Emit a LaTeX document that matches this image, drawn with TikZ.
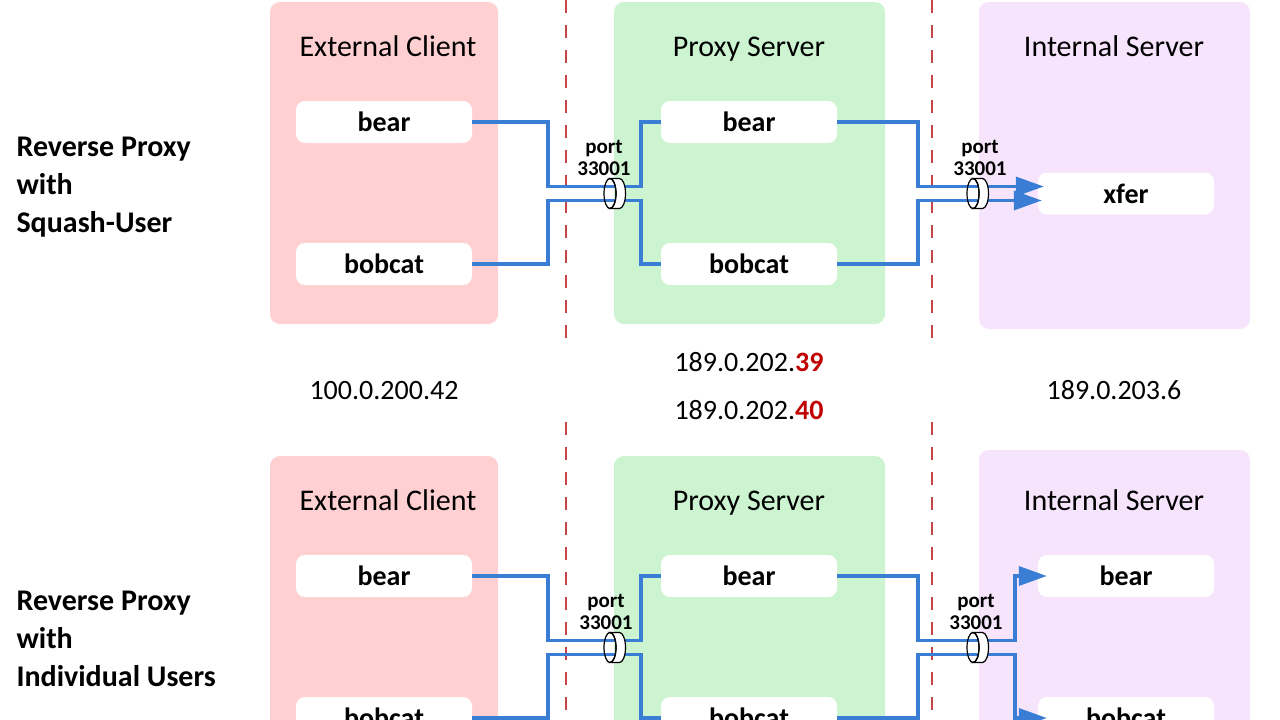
\documentclass[tikz,border=0pt]{standalone}
\usepackage{fontspec}
\setmainfont{Carlito}
\usetikzlibrary{arrows.meta}
\definecolor{pinkc}{RGB}{255,208,210}
\definecolor{greenc}{RGB}{205,244,208}
\definecolor{purplec}{RGB}{246,228,252}
\definecolor{linkc}{RGB}{58,125,212}
\definecolor{dashc}{RGB}{196,70,70}
\definecolor{ipred}{RGB}{192,0,0}
\newcommand\portshape[2]{%
  \begin{scope}[shift={(#1,#2)},x=1pt,y=1pt]
    \filldraw[fill=white,draw=black,line width=1.2pt] (0,15) -- (9.5,15)
      arc[start angle=90,end angle=-90,x radius=6,y radius=15] -- (0,-15)
      arc[start angle=-90,end angle=90,x radius=6,y radius=15] -- cycle;
    \draw[line width=1.2pt] (0,0) ellipse[x radius=6,y radius=15];
  \end{scope}}
\tikzset{
  panel/.style={rounded corners=10pt,inner sep=0pt},
  title/.style={anchor=base,font=\fontsize{30}{36}\selectfont},
  item/.style={fill=white,rounded corners=9pt,minimum width=176pt,minimum height=42pt,inner sep=0pt,font=\fontsize{28}{32}\selectfont\bfseries},
  conn/.style={draw=linkc,line width=3.5pt},
  arr/.style={conn,-{Triangle[length=28pt,width=19pt]}},
  sep/.style={draw=dashc,line width=1.5pt,dash pattern=on 13pt off 12pt},
  iptext/.style={anchor=base,font=\fontsize{28}{34}\selectfont},
  portlab/.style={font=\fontsize{21}{22}\selectfont\bfseries,align=center},
  side/.style={anchor=west,align=left,font=\fontsize{30}{38}\selectfont\bfseries}
}
\begin{document}
\begin{tikzpicture}[x=1pt,y=-1pt]
\useasboundingbox (0,0) rectangle (1280,720);
\clip (0,0) rectangle (1280,720);
\fill[white] (0,0) rectangle (1280,720);
% panels top
\node[panel,fill=pinkc,minimum width=228pt,minimum height=322pt] (ec1) at (384,163) {};
\node[panel,fill=greenc,minimum width=271pt,minimum height=322pt] (ps1) at (749.5,163) {};
\node[panel,fill=purplec,minimum width=271pt,minimum height=327pt] (is1) at (1114.5,165.5) {};
% panels bottom
\node[panel,fill=pinkc,minimum width=228pt,minimum height=322pt] (ec2) at (384,617) {};
\node[panel,fill=greenc,minimum width=271pt,minimum height=322pt] (ps2) at (749.5,617) {};
\node[panel,fill=purplec,minimum width=271pt,minimum height=330pt] (is2) at (1114.5,615) {};
% dashed separators
\coordinate (d1a) at (566,0); \coordinate (d1b) at (566,348);
\coordinate (d1c) at (566,422); \coordinate (d1d) at (566,720);
\coordinate (d2a) at (932,0); \coordinate (d2b) at (932,348);
\coordinate (d2c) at (932,422); \coordinate (d2d) at (932,720);
\draw[sep] (d1a) -- (d1b); \draw[sep] (d1c) -- (d1d);
\draw[sep] (d2a) -- (d2b); \draw[sep] (d2c) -- (d2d);
% titles
\node[title] (t1) at (388,56) {External Client};
\node[title] (t2) at (749,56) {Proxy Server};
\node[title] (t3) at (1114,56) {Internal Server};
\node[title] (t4) at (388,510) {External Client};
\node[title] (t5) at (749,510) {Proxy Server};
\node[title] (t6) at (1114,510) {Internal Server};
% items top
\node[item] (eb1) at (384,122) {bear};
\node[item] (ec1n) at (384,264) {bobcat};
\node[item] (pb1) at (749,122) {bear};
\node[item] (pc1) at (749,264) {bobcat};
\node[item] (xf) at (1126,193.5) {xfer};
% items bottom
\node[item] (eb2) at (384,576) {bear};
\node[item] (ec2n) at (384,718) {bobcat};
\node[item] (pb2) at (749,576) {bear};
\node[item] (pc2) at (749,718) {bobcat};
\node[item] (ib2) at (1126,576) {bear};
\node[item] (ic2) at (1126,718) {bobcat};
% connectors top
\draw[conn] (eb1.east) -| (548,186.5) -- (641,186.5) |- (pb1.west);
\draw[conn] (ec1n.east) -| (548,200.5) -- (641,200.5) |- (pc1.west);
\draw[arr] (pb1.east) -| (918,186.5) -- ([shift={(6,-7)}]xf.west);
\draw[arr] (pc1.east) -| (918,200.5) -- ([shift={(4,7)}]xf.west);
% connectors bottom
\draw[conn] (eb2.east) -| (548,640.5) -- (641,640.5) |- (pb2.west);
\draw[conn] (ec2n.east) -| (548,654.5) -- (641,654.5) |- (pc2.west);
\draw[arr] (pb2.east) -| (918,640.5) -| (1015,576) -- ([xshift=9pt]ib2.west);
\draw[arr] (pc2.east) -| (918,654.5) -| (1015,718) -- ([xshift=9pt]ic2.west);
% ports
\portshape{610}{193.5}
\portshape{973}{193.5}
\portshape{610}{647.5}
\portshape{973}{647.5}
\node[portlab] (pl1) at (604,158) {port\\33001};
\node[portlab] (pl2) at (980,158) {port\\33001};
\node[portlab] (pl3) at (606,612) {port\\33001};
\node[portlab] (pl4) at (976,612) {port\\33001};
% IP addresses
\node[iptext] (ip1) at (384,399) {100.0.200.42};
\node[iptext] (ip2) at (749,371) {189.0.202.\textbf{\textcolor{ipred}{39}}};
\node[iptext] (ip3) at (749,419) {189.0.202.\textbf{\textcolor{ipred}{40}}};
\node[iptext] (ip4) at (1114,399) {189.0.203.6};
% side labels
\node[side] (s1) at (13,187) {Reverse Proxy\\with\\Squash-User};
\node[side] (s2) at (13,639) {Reverse Proxy\\with\\Individual Users};
\end{tikzpicture}
\end{document}
